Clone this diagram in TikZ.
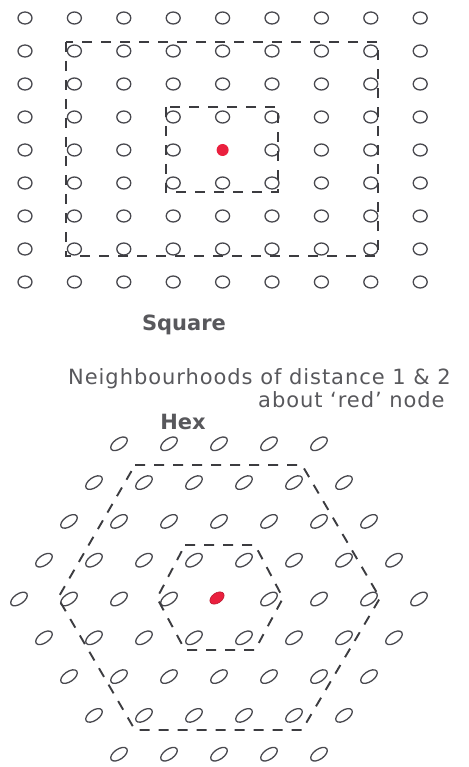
\documentclass[tikz,border=0pt]{standalone}
\usepackage{fontspec}
\newfontfamily\dvs{DejaVu Sans}
\newfontfamily\dvsp[LetterSpace=4.5]{DejaVu Sans}
\usetikzlibrary{shapes.geometric}
\definecolor{ink}{RGB}{88,88,92}
\definecolor{dotink}{RGB}{72,72,78}
\definecolor{dashink}{RGB}{60,60,64}
\definecolor{reddot}{RGB}{234,32,62}
\begin{document}
\begin{tikzpicture}[x=1pt,y=-1pt,
  sqdot/.style={shape=ellipse, draw=dotink, line width=1.3pt, minimum width=14pt, minimum height=12pt, inner sep=0pt},
  hexdot/.style={shape=ellipse, draw=dotink, line width=1.3pt, minimum width=19pt, minimum height=10pt, inner sep=0pt, rotate=35},
  sqred/.style={shape=circle, fill=reddot, minimum size=12pt, inner sep=0pt},
  hexred/.style={shape=ellipse, fill=reddot, draw=reddot!80!black, line width=0.6pt, minimum width=16pt, minimum height=10pt, inner sep=0pt, rotate=35},
  dashline/.style={draw=dashink, line width=1.9pt, dash pattern=on 10pt off 9pt},
  boldlabel/.style={font=\dvs\bfseries\fontsize{21}{21}\selectfont, text=ink, inner sep=0pt},
  caption/.style={font=\dvsp\fontsize{21}{22}\selectfont, text=ink, inner sep=0pt}]
\useasboundingbox (0,0) rectangle (468,767);
% square lattice
\foreach \i in {0,...,8}{
  \foreach \j in {0,...,8}{
    \ifnum\i=4 \ifnum\j=4 \else
      \node[sqdot] (s-\i-\j) at ({25+49.4*\i},{18+33*\j}) {};
    \fi\else
      \node[sqdot] (s-\i-\j) at ({25+49.4*\i},{18+33*\j}) {};
    \fi
  }
}
\node[sqred] (sred) at (222.6,150) {};
% square neighbourhoods
\coordinate (so1) at (66,42);  \coordinate (so2) at (378,256);
\coordinate (si1) at (166,107); \coordinate (si2) at (278,192);
\draw[dashline] (so1) rectangle (so2);
\draw[dashline] (si1) rectangle (si2);
% labels
\node[boldlabel, anchor=base] (sqlabel) at (184,330) {Square};
\node[caption, anchor=base west] (cap1) at (68,384) {Neighbourhoods of distance 1 \& 2};
\node[caption, anchor=base west] (cap2) at (258,407) {about ‘red’ node};
\node[boldlabel, anchor=base] (hexlabel) at (183,429) {Hex};
% hex lattice
\foreach \k in {-4,...,4}{
  \pgfmathtruncatemacro{\n}{9-abs(\k)}
  \pgfmathtruncatemacro{\last}{\n-1}
  \foreach \j in {0,...,\last}{
    \pgfmathsetmacro{\xx}{219+50*(\j-(\n-1)/2)}
    \pgfmathsetmacro{\yy}{599+38.8*\k}
    \ifnum\k=0 \ifnum\j=4 \else
      \node[hexdot] (h\k-\j) at (\xx,\yy) {};
    \fi\else
      \node[hexdot] (h\k-\j) at (\xx,\yy) {};
    \fi
  }
}
\node[hexred] (hred) at (217,598) {};
% hex neighbourhoods
\coordinate (ho1) at (135,465); \coordinate (ho2) at (302,465); \coordinate (ho3) at (380,598);
\coordinate (ho4) at (302,730); \coordinate (ho5) at (135,730); \coordinate (ho6) at (58,598);
\coordinate (hi1) at (185,545); \coordinate (hi2) at (255,545); \coordinate (hi3) at (283,598);
\coordinate (hi4) at (255,650); \coordinate (hi5) at (185,650); \coordinate (hi6) at (157,598);
\draw[dashline] (ho1) -- (ho2) -- (ho3) -- (ho4) -- (ho5) -- (ho6) -- cycle;
\draw[dashline] (hi1) -- (hi2) -- (hi3) -- (hi4) -- (hi5) -- (hi6) -- cycle;
\end{tikzpicture}
\end{document}
